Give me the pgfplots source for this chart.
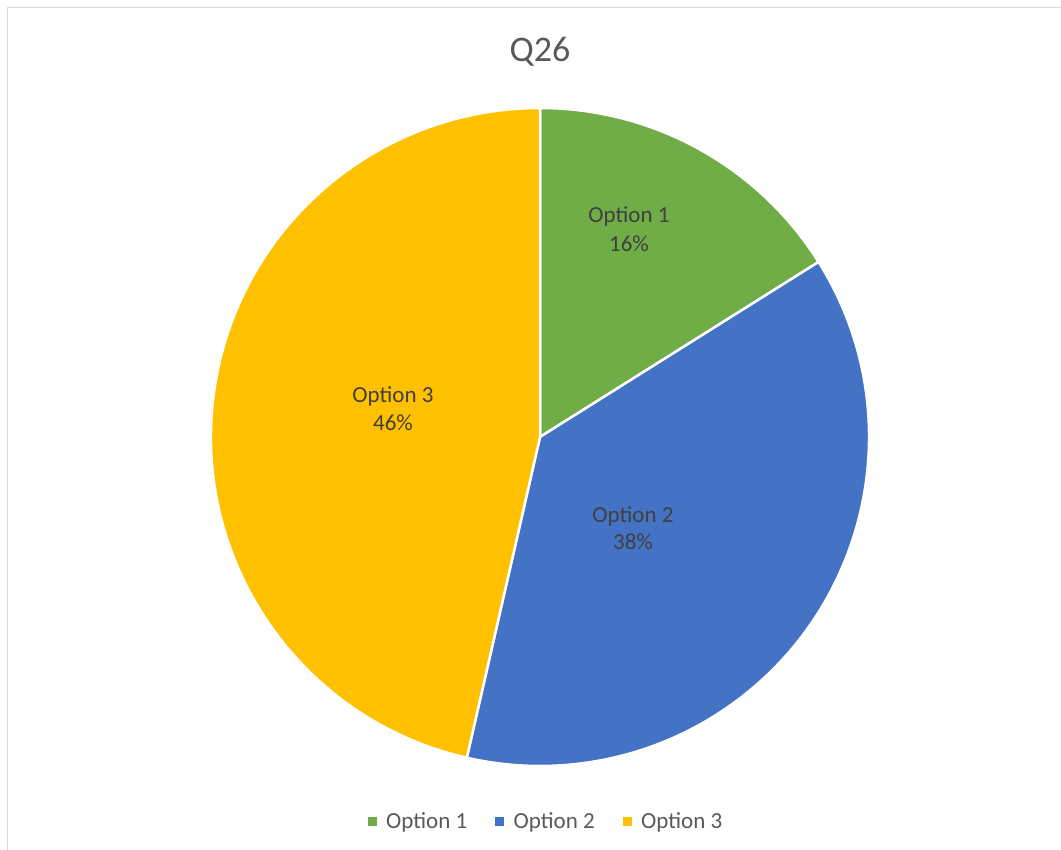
\documentclass[border=0pt]{standalone}
\usepackage{fontspec}
\setmainfont{Carlito}
\usepackage{pgfplots}
\usepackage{pgfplotstable}
\pgfplotsset{compat=1.18}
\definecolor{opt1}{HTML}{70AD47}
\definecolor{opt2}{HTML}{4472C4}
\definecolor{opt3}{HTML}{FFC000}
\definecolor{lbl}{HTML}{404040}
\definecolor{ttl}{HTML}{595959}
\definecolor{frame}{HTML}{D9D9D9}

\pgfplotstableread{
name value
{Option 1} 9
{Option 2} 21
{Option 3} 26
}\piedata

\begin{document}
\begin{tikzpicture}
\useasboundingbox (0,0) rectangle (1061pt,850pt);
\fill[white] (0,0) rectangle (1061pt,850pt);
\draw[frame, line width=1.5pt] (7.5pt,0) -- (7.5pt,842.5pt) -- (1061pt,842.5pt);

\pgfplotstablegetelem{0}{value}\of\piedata \let\va\pgfplotsretval
\pgfplotstablegetelem{1}{value}\of\piedata \let\vb\pgfplotsretval
\pgfplotstablegetelem{2}{value}\of\piedata \let\vc\pgfplotsretval
\pgfmathsetmacro\total{\va+\vb+\vc}
\pgfmathsetmacro\aA{90}
\pgfmathsetmacro\aB{\aA-360*\va/\total}
\pgfmathsetmacro\aC{\aB-360*\vb/\total}
\pgfmathsetmacro\aD{\aC-360*\vc/\total}
\pgfmathtruncatemacro\pA{round(100*\va/\total+0.001)}
\pgfmathtruncatemacro\pB{round(100*\vb/\total+0.001)}
\pgfmathtruncatemacro\pC{round(100*\vc/\total+0.001)}

\begin{axis}[
  at={(540pt,413pt)}, anchor=origin,
  scale only axis, width=658pt, height=658pt,
  xmin=-1, xmax=1, ymin=-1, ymax=1,
  hide axis, clip=false,
  legend columns=3,
  legend cell align=left,
  legend style={
    at={(0.5076,-0.0836)}, anchor=center,
    draw=none, fill=none, inner sep=0pt,
    font=\fontsize{23}{28}\selectfont, text=ttl,
    nodes={inner sep=0pt},
    /tikz/every odd column/.append style={column sep=10pt},
    /tikz/every even column/.append style={column sep=28pt},
  },
]
\filldraw[fill=opt1, draw=white, line width=2.5pt, line join=round]
  (axis cs:0,0) -- (axis cs:{cos(\aA)},{sin(\aA)}) arc[start angle=\aA, end angle=\aB, radius=329pt] -- cycle;
\filldraw[fill=opt2, draw=white, line width=2.5pt, line join=round]
  (axis cs:0,0) -- (axis cs:{cos(\aB)},{sin(\aB)}) arc[start angle=\aB, end angle=\aC, radius=329pt] -- cycle;
\filldraw[fill=opt3, draw=white, line width=2.5pt, line join=round]
  (axis cs:0,0) -- (axis cs:{cos(\aC)},{sin(\aC)}) arc[start angle=\aC, end angle=\aD, radius=329pt] -- cycle;

\addlegendimage{legend image code/.code={\fill[opt1] (0pt,-4pt) rectangle (8pt,4pt);}}
\addlegendentry{Option 1}
\addlegendimage{legend image code/.code={\fill[opt2] (0pt,-4pt) rectangle (8pt,4pt);}}
\addlegendentry{Option 2}
\addlegendimage{legend image code/.code={\fill[opt3] (0pt,-4pt) rectangle (8pt,4pt);}}
\addlegendentry{Option 3}
\end{axis}

\begin{scope}[every node/.style={inner sep=0pt, anchor=base, text=lbl, font=\fontsize{23}{28}\selectfont}]
\node at (629pt,627pt) {Option 1};
\node at (629pt,598pt) {\pA\%};
\node at (633pt,327pt) {Option 2};
\node at (633pt,300pt) {\pB\%};
\node at (393pt,447pt) {Option 3};
\node at (393pt,419pt) {\pC\%};
\end{scope}
\node[inner sep=0pt, anchor=base, text=ttl, font=\fontsize{36}{43}\selectfont] at (540pt,788pt) {Q26};
\end{tikzpicture}
\end{document}
